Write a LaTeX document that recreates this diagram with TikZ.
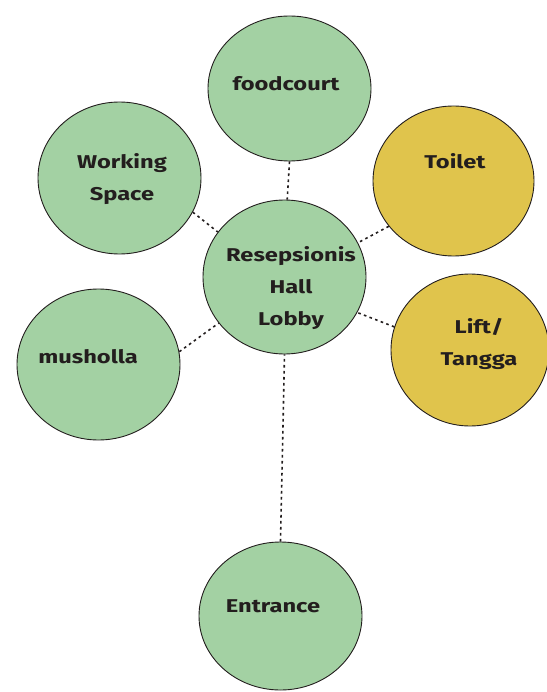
\documentclass[tikz,border=0pt]{standalone}
\usepackage{fontspec}
\setmainfont[FakeStretch=1.28]{Fira Sans}
\usetikzlibrary{shapes.geometric}
\definecolor{roomgreen}{RGB}{163,209,163}
\definecolor{roomyellow}{RGB}{224,196,76}
\definecolor{edgedark}{RGB}{35,30,30}
\tikzset{
  room/.style={ellipse, draw=edgedark, line width=0.9pt, inner sep=0pt},
  greenroom/.style={room, fill=roomgreen},
  yellowroom/.style={room, fill=roomyellow},
  roomtext/.style={align=center, text=edgedark, font=\fontsize{18.5}{32}\selectfont\bfseries},
  link/.style={draw=edgedark, line width=1.6pt, dash pattern=on 2.6pt off 3.4pt}
}
\begin{document}
\begin{tikzpicture}[x=1pt,y=-1pt]
\useasboundingbox (0,0) rectangle (546,692);
\node[greenroom, minimum width=163pt, minimum height=145pt] (food) at (289.5,88.5) {};
\node[greenroom, minimum width=163pt, minimum height=152pt] (work) at (119.5,178) {};
\node[greenroom, minimum width=163pt, minimum height=151pt] (mush) at (98.5,364.5) {};
\node[yellowroom, minimum width=161pt, minimum height=150pt] (toil) at (453.5,181) {};
\node[yellowroom, minimum width=158pt, minimum height=152pt] (lift) at (470,350) {};
\node[greenroom, minimum width=163pt, minimum height=154pt] (hall) at (284.5,277) {};
\node[greenroom, minimum width=163pt, minimum height=148pt] (entr) at (280.5,616) {};

\node[roomtext] (tfood) at (286,84) {foodcourt};
\node[roomtext] (twork) at (122,179) {Working\\Space};
\node[roomtext] (ttoil) at (455,161) {Toilet};
\node[roomtext] (thall) at (291,288) {Resepsionis\\Hall\\Lobby};
\node[roomtext] (tlift) at (479,344) {Lift/\\Tangga};
\node[roomtext] (tmush) at (88,357) {musholla};
\node[roomtext] (tentr) at (273,606) {Entrance};

\draw[link] (food.270) -- (hall.88);
\draw[link] (work.-25) -- (hall.146);
\draw[link] (toil.215) -- (hall.25);
\draw[link] (mush.9) -- (hall.215);
\draw[link] (lift.163) -- (hall.-26);
\draw[link] (entr.90) -- (hall.270);
\end{tikzpicture}
\end{document}
